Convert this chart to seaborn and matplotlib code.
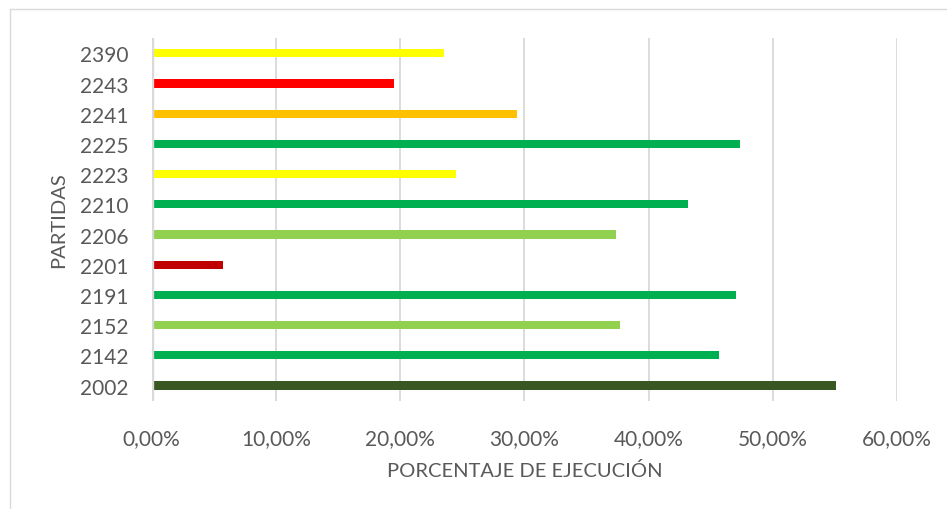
import matplotlib
matplotlib.use("Agg")
import matplotlib.pyplot as plt
import seaborn as sns
import pandas as pd
from matplotlib.ticker import FuncFormatter
from matplotlib.lines import Line2D

# Budget items (top to bottom) and their execution percentage
partidas = ["2390", "2243", "2241", "2225", "2223", "2210",
            "2206", "2201", "2191", "2152", "2142", "2002"]
ejecucion = [23.5, 19.5, 29.4, 47.4, 24.5, 43.2,
             37.4, 5.7, 47.0, 37.7, 45.7, 55.1]
colores = ["#FFFF00", "#FF0000", "#FFC000", "#00B050", "#FFFF00", "#00B050",
           "#92D050", "#C00000", "#00B050", "#92D050", "#00B050", "#385723"]
ticks_x = [0, 10, 20, 30, 40, 50, 60]

df = pd.DataFrame({"partida": partidas, "ejecucion": ejecucion})

sns.set_theme(style="white")
plt.rcParams["font.family"] = ["Lato", "DejaVu Sans"]

texto = "#595959"
rejilla = "#D9D9D9"

fig = plt.figure(figsize=(9.47, 5.10), dpi=100)
ax = fig.add_axes([0.1602, 0.2124, 0.7870, 0.7106])

sns.barplot(data=df, x="ejecucion", y="partida", hue="partida",
            palette=dict(zip(partidas, colores)), legend=False,
            orient="h", width=0.27, order=partidas, ax=ax,
            saturation=1, linewidth=0, zorder=2)

ax.set_xlim(0, 60)
ax.set_ylim(len(partidas) - 0.5, -0.5)
ax.set_xticks(ticks_x)
ax.xaxis.set_major_formatter(FuncFormatter(lambda v, _: f"{v:.2f}%".replace(".", ",")))

for t in ticks_x[1:]:
    ax.axvline(t, color=rejilla, lw=1.3, zorder=1)
ax.axvline(0, color=rejilla, lw=2.4, zorder=3)

for s in ax.spines.values():
    s.set_visible(False)

ax.tick_params(axis="both", length=0, colors=texto, labelsize=15)
ax.tick_params(axis="x", pad=20)
ax.tick_params(axis="y", pad=17)

ax.set_xlabel("PORCENTAJE DE EJECUCIÓN", color=texto, fontsize=14.5, labelpad=9)
ax.set_ylabel("PARTIDAS", color=texto, fontsize=14.5, labelpad=9)

# Chart-area frame (top and left edges visible)
fig.add_artist(Line2D([10 / 947, 1.0], [1 - 10 / 510, 1 - 10 / 510],
                      transform=fig.transFigure, color="#D9D9D9", lw=1))
fig.add_artist(Line2D([10 / 947, 10 / 947], [0.0, 1 - 10 / 510],
                      transform=fig.transFigure, color="#D9D9D9", lw=1))

fig.savefig("out.png", dpi=100)
